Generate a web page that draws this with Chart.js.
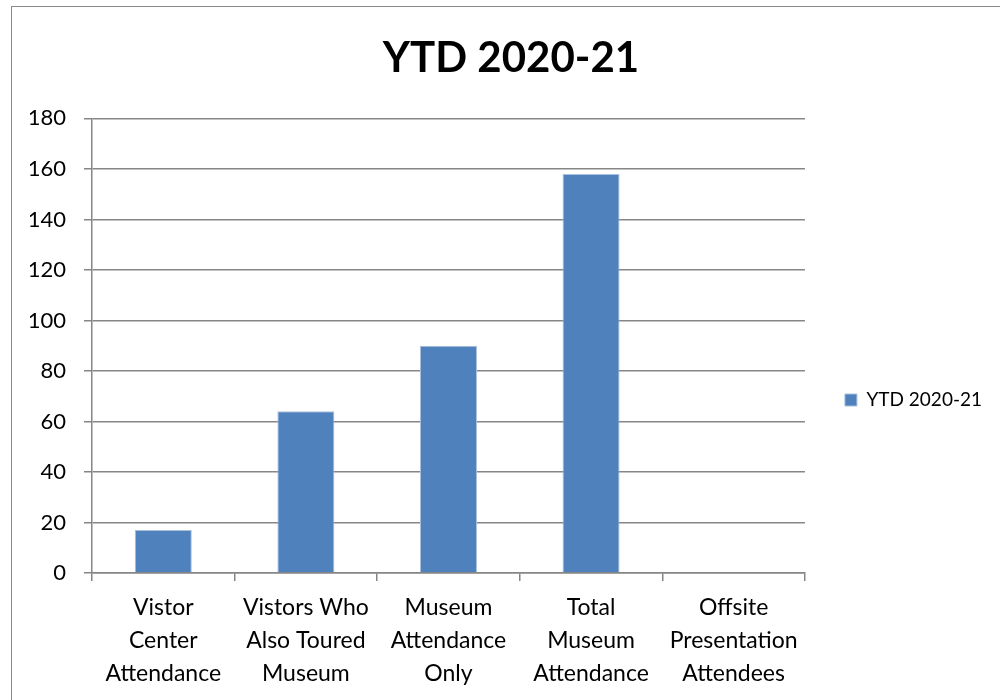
<!DOCTYPE html>
<html>
<head>
<meta charset="utf-8">
<script src="https://cdn.jsdelivr.net/npm/chart.js@4.4.1/dist/chart.umd.min.js"></script>
<style>
  html, body { margin: 0; padding: 0; background: #fff; overflow: hidden; }
  #wrap { position: relative; width: 1000px; height: 700px; overflow: hidden; }
  #frame { position: absolute; left: 11px; top: 6px; width: 1000px; height: 700px; border: 1px solid #8a8a8a; box-sizing: border-box; }
  canvas { position: absolute; left: 0; top: 0; }
</style>
</head>
<body>
<div id="wrap">
  <div id="frame"></div>
  <canvas id="c" width="1000" height="700"></canvas>
</div>
<script>
// Attendance categories (each entry is one wrapped label)
const categories = [
  ['Vistor', 'Center', 'Attendance'],
  ['Vistors Who', 'Also Toured', 'Museum'],
  ['Museum', 'Attendance', 'Only'],
  ['Total', 'Museum', 'Attendance'],
  ['Offsite', 'Presentation', 'Attendees']
];
const seriesName = 'YTD 2020-21';
const attendance = [17, 64, 90, 158, 0];
const yTicks = { min: 0, max: 180, step: 20 };

const FONT = "Lato, 'Open Sans', sans-serif";
const AXIS_GREY = '#868686';

new Chart(document.getElementById('c'), {
  type: 'bar',
  data: {
    labels: categories,
    datasets: [{
      label: seriesName,
      data: attendance,
      backgroundColor: '#4F81BD',
      borderColor: '#A9C0DD',
      borderWidth: 1,
      barPercentage: 0.4,
      categoryPercentage: 1.0
    }]
  },
  options: {
    responsive: false,
    animation: false,
    layout: { padding: { left: 30, right: 8, top: 0, bottom: 0 } },
    plugins: {
      title: {
        display: true,
        text: 'YTD 2020-21',
        color: '#000',
        font: { family: FONT, size: 42, weight: 'bold' },
        padding: { top: 33, bottom: 35 }
      },
      legend: {
        display: true,
        position: 'right',
        // blank legend heading pushes the single entry down beside the axis labels
        title: { display: true, text: ' ', font: { family: FONT, size: 20 }, padding: 38 },
        labels: {
          color: '#000',
          font: { family: FONT, size: 19 },
          boxWidth: 12,
          boxHeight: 12,
          padding: 40
        }
      },
      tooltip: { enabled: false }
    },
    scales: {
      x: {
        offset: true,
        grid: {
          offset: true,
          drawOnChartArea: false,
          drawTicks: true,
          tickLength: 8,
          color: AXIS_GREY,
          lineWidth: 1.5
        },
        border: { display: true, color: AXIS_GREY, width: 1.5 },
        ticks: {
          color: '#000',
          font: { family: FONT, size: 23, lineHeight: 33 / 23 },
          padding: 10,
          maxRotation: 0,
          autoSkip: false
        },
        afterFit(scale) { scale.height = 127; }
      },
      y: {
        min: yTicks.min,
        max: yTicks.max,
        ticks: {
          stepSize: yTicks.step,
          color: '#000',
          font: { family: FONT, size: 22 },
          padding: 18
        },
        grid: {
          color: AXIS_GREY,
          lineWidth: 1.5,
          tickLength: 8,
          drawTicks: true
        },
        border: { display: true, color: AXIS_GREY, width: 1.5 },
        afterFit(scale) { scale.width = 62; }
      }
    }
  }
});
</script>
</body>
</html>
